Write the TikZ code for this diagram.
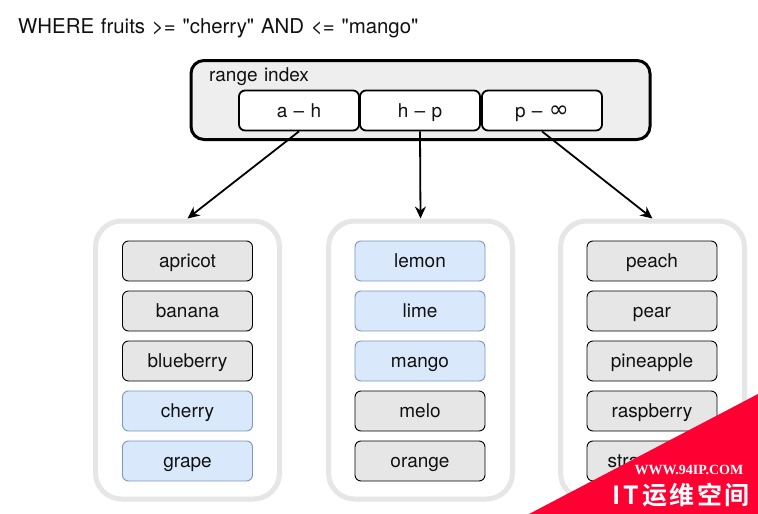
\documentclass[tikz,border=0pt]{standalone}
\usepackage{fontspec}
\newfontfamily\titlef{TeX Gyre Heros}[WordSpace=1.9]
\newfontfamily\labelf{TeX Gyre Heros}[WordSpace=1.2]
\newfontfamily\symf{DejaVu Sans}
\newfontfamily\cjkf{Noto Sans CJK SC}[BoldFont={* Bold}]
\newfontfamily\wmf{Liberation Serif}
\definecolor{boxgray}{HTML}{E6E6E6}
\definecolor{idxgray}{HTML}{EEEEEE}
\definecolor{ringgray}{HTML}{E6E6E6}
\definecolor{hitblue}{HTML}{DAE8FC}
\definecolor{hitedge}{HTML}{7C97BD}
\definecolor{txt}{HTML}{111111}
\definecolor{banner}{HTML}{FF0033}
\usetikzlibrary{arrows.meta}
\tikzset{
  base/.style={font=\labelf\fontsize{19}{21}\selectfont,text=txt,inner sep=0pt,anchor=center,text height=13.5pt,text depth=0pt},
  item/.style={base,draw=black,line width=0.9pt,fill=boxgray,rounded corners=6pt,minimum width=130pt,minimum height=40pt},
  hit/.style={item,draw=hitedge,fill=hitblue},
  ring/.style={draw=ringgray,line width=5pt,fill=white,rounded corners=26pt,minimum width=184pt,minimum height=278pt,inner sep=0pt},
  slot/.style={base,draw=black,line width=1.8pt,fill=white,rounded corners=6pt,minimum width=120pt,minimum height=40pt},
  link/.style={-{Stealth[length=12pt,width=11pt]},line width=1.8pt,black},
}
\begin{document}
\begin{tikzpicture}[x=1pt,y=-1pt]
\useasboundingbox (0,0) rectangle (758,514);
\fill[white] (0,0) rectangle (758,514);
\node[base,font=\titlef\fontsize{20.4}{22}\selectfont,anchor=base west] (q) at (18,33) {WHERE fruits >= "cherry" AND <= "mango"};
\node[draw=black,line width=3pt,fill=idxgray,rounded corners=13pt,minimum width=459pt,minimum height=79pt,inner sep=0pt] (idx) at (420.5,100) {};
\node[base,anchor=base west] (idxl) at (209,81) {range index};
\node[slot] (s1) at (299,110.5) {a – h};
\node[slot] (s2) at (420,110.5) {h – p};
\node[slot] (s3) at (542,110.5) {p – {\symf\fontsize{24}{24}\selectfont ∞}};
\node[ring] (g1) at (187.5,360) {};
\node[ring] (g2) at (420.5,360) {};
\node[ring] (g3) at (652.5,360) {};
\node[item] (a1) at (187.5,261) {apricot};
\node[item] (a2) at (187.5,311) {banana};
\node[item] (a3) at (187.5,361) {blueberry};
\node[hit]  (a4) at (187.5,411) {cherry};
\node[hit]  (a5) at (187.5,461) {grape};
\node[hit]  (b1) at (420,261) {lemon};
\node[hit]  (b2) at (420,311) {lime};
\node[hit]  (b3) at (420,361) {mango};
\node[item] (b4) at (420,411) {melo};
\node[item] (b5) at (420,461) {orange};
\node[item] (c1) at (652,261) {peach};
\node[item] (c2) at (652,311) {pear};
\node[item] (c3) at (652,361) {pineapple};
\node[item] (c4) at (652,411) {raspberry};
\node[item] (c5) at (652,461) {strawberry};
\draw[link] (s1.south) -- (g1.north);
\draw[link] (s2.south) -- (g2.north);
\draw[link] (s3.south) -- (g3.north);
\fill[banner] (529,514) -- (758,394) -- (758,514) -- cycle;
\node[inner sep=0pt,text=white,font=\wmf\bfseries\fontsize{14}{15}\selectfont] (wm1) at (689,469.5) {WWW.94IP.COM};
\node[inner sep=0pt,text=white,font=\cjkf\bfseries\fontsize{25}{27}\selectfont] (wm2) at (681,495) {I\hspace{3pt}T\hspace{4pt}运\hspace{2pt}维\hspace{3pt}空\hspace{2pt}间};
\end{tikzpicture}
\end{document}
